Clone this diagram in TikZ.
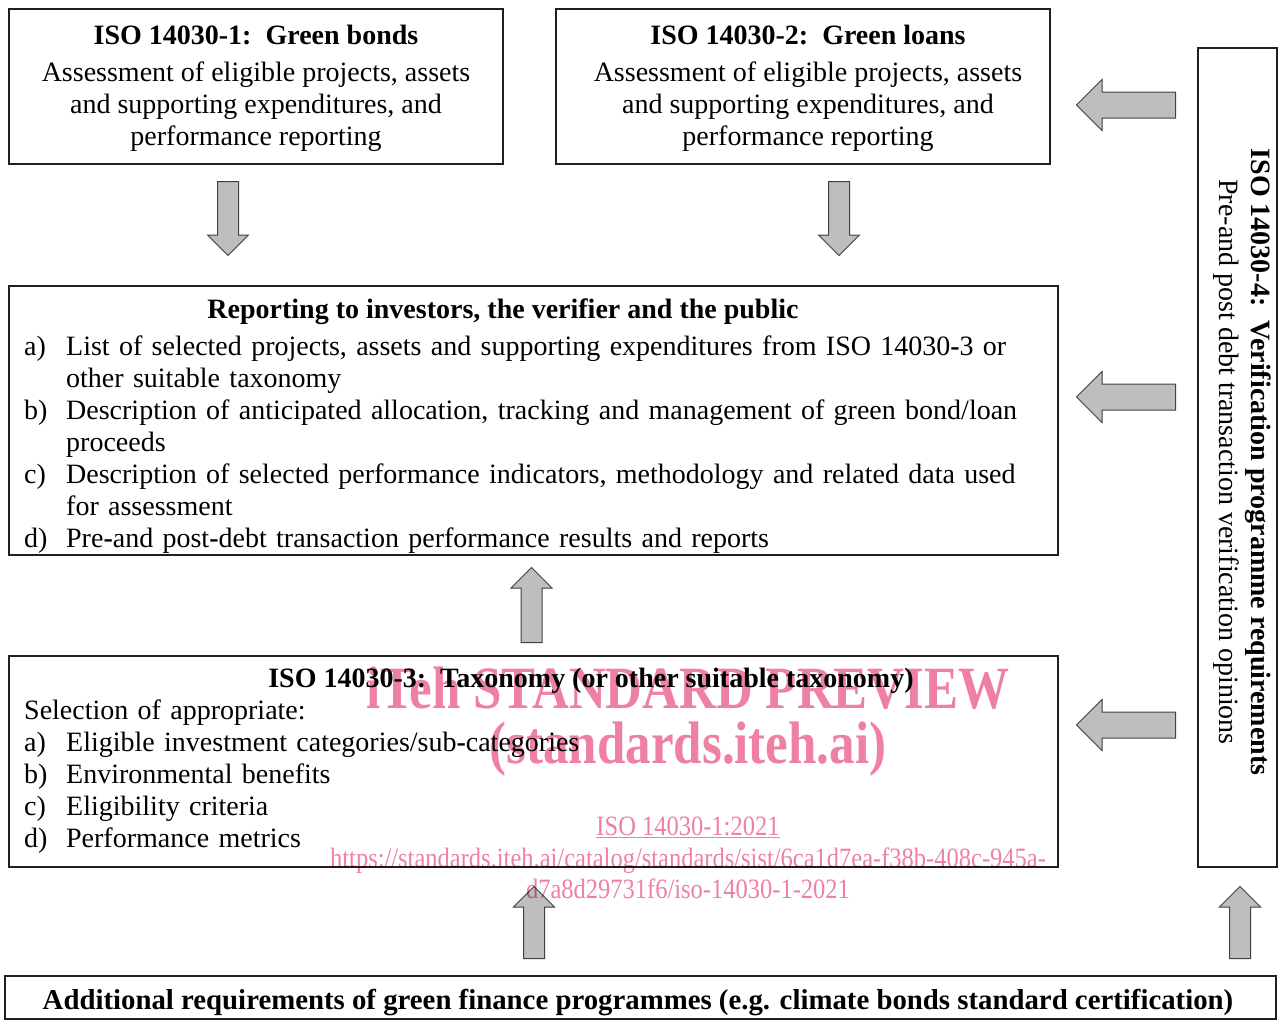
\documentclass[tikz,border=0pt]{standalone}
\usepackage{fontspec}
\setmainfont{Liberation Serif}
\usepackage{graphicx}
\usetikzlibrary{shapes.arrows}

\definecolor{gris}{RGB}{188,190,192}
\definecolor{borde}{RGB}{35,31,32}
\definecolor{rosa}{RGB}{238,128,162}

\newcommand{\tam}{\fontsize{28}{32}\selectfont}
\newcommand{\guion}{\textbf{-}}
\newcommand{\elem}[2]{\hangindent=42pt\hangafter=1\makebox[42pt][l]{#1}#2\par}

\begin{document}
\begin{tikzpicture}[x=1pt, y=-1pt,
    caja/.style   = {rectangle, draw=borde, line width=2pt, inner sep=0pt},
    texto/.style  = {font=\tam, align=center, inner sep=0pt},
    lista/.style  = {font=\tam, align=left, text width=1030pt, inner sep=0pt},
    flecha/.style = {single arrow, draw=black!75, fill=gris, line width=1pt,
                     single arrow tip angle=90, single arrow head indent=0pt,
                     inner xsep=0pt, anchor=tail, minimum height=#1},
    fv/.style     = {flecha=#1, inner ysep=10pt, single arrow head extend=10pt},
    fh/.style     = {flecha=#1, inner ysep=12.5pt, single arrow head extend=12.5pt,
                     rotate=180},
    marca/.style  = {text=rosa, inner sep=0pt, anchor=base},
  ]
  \useasboundingbox (0,0) rectangle (1278,1021);

  %-------------------------------------------------- 1 y 2. bonos y prestamos
  \node[caja, minimum width=494pt, minimum height=155pt] (B1) at (256,86.5) {};
  \node[texto] (t1) at (256,88)
    {\textbf{ISO 14030-1:\ \ Green bonds}\\[5pt]
     Assessment of eligible projects, assets\\
     and supporting expenditures, and\\performance reporting};

  \node[caja, minimum width=494pt, minimum height=155pt] (B2) at (803,86.5) {};
  \node[texto] (t2) at (808,88)
    {\textbf{ISO 14030-2:\ \ Green loans}\\[5pt]
     Assessment of eligible projects, assets\\
     and supporting expenditures, and\\performance reporting};

  %-------------------------------------------------- reporte
  \node[caja, minimum width=1049pt, minimum height=269pt] (R) at (533.5,420.5) {};
  \node[texto, anchor=base] (rt) at (503,318)
    {\textbf{Reporting to investors, the verifier and the public}};
  \node[lista, anchor=base west] (rl) at (24,355)
    {\elem{a)}{List of selected projects, assets and supporting expenditures from ISO 14030\guion3 or\newline other suitable taxonomy}
     \elem{b)}{Description of anticipated allocation, tracking and management of green bond/loan\newline proceeds}
     \elem{c)}{Description of selected performance indicators, methodology and related data used\newline for assessment}
     \elem{d)}{Pre\guion and post\guion debt transaction performance results and reports}};

  %-------------------------------------------------- taxonomia
  \node[caja, minimum width=1049pt, minimum height=211pt] (T) at (533.5,761.5) {};
  \node[texto, anchor=base] (tt) at (591,687)
    {\textbf{ISO 14030-3:\ \ Taxonomy (or other suitable taxonomy)}};
  \node[lista, anchor=base west] (tl) at (24,719)
    {Selection of appropriate:\par
     \elem{a)}{Eligible investment categories/sub\guion categories}
     \elem{b)}{Environmental benefits}
     \elem{c)}{Eligibility criteria}
     \elem{d)}{Performance metrics}};

  %-------------------------------------------------- verificacion
  \node[caja, minimum width=79pt, minimum height=819pt] (V) at (1237.5,457.5) {};
  \node[texto, rotate=-90] (vt) at (1242,462)
    {\textbf{ISO 14030-4:\ \ Verification programme requirements}\\
     Pre-and post debt transaction verification opinions};

  %-------------------------------------------------- requisitos adicionales
  \node[caja, minimum width=1271pt, minimum height=43pt] (A) at (640.5,997.5) {};
  \node[texto, anchor=base, font=\fontsize{28.8}{32}\selectfont] (at) at (638,1009)
    {\textbf{Additional requirements of green finance programmes (e.g. climate bonds standard certification)}};

  %-------------------------------------------------- flechas
  \node[fv=74pt, rotate=-90] (f1) at (228,181) {};
  \node[fv=74pt, rotate=-90] (f2) at (839,181) {};
  \node[fv=75pt, rotate=90]  (f3) at (531.5,643) {};
  \node[fv=72pt, rotate=90]  (f4) at (534,959) {};
  \node[fv=72pt, rotate=90]  (f5) at (1240,959) {};
  \node[fh=99pt] (f6) at (1176,105) {};
  \node[fh=99pt] (f7) at (1176,397) {};
  \node[fh=99pt] (f8) at (1176,725) {};

  %-------------------------------------------------- marca de agua
  \begin{scope}[blend mode=multiply]
  \node[marca, font=\fontsize{60}{60}\selectfont\bfseries] (m1) at (688,708)
    {\scalebox{0.85}[1]{iTeh STANDARD PREVIEW}};
  \node[marca, font=\fontsize{60}{60}\selectfont\bfseries] (m2) at (688,763)
    {\scalebox{0.85}[1]{(standards.iteh.ai)}};
  \node[marca, font=\fontsize{28}{28}\selectfont] (m3) at (688,835)
    {\scalebox{0.875}[1]{\underline{ISO 14030-1:2021}}};
  \node[marca, font=\fontsize{28}{28}\selectfont] (m4) at (688,867)
    {\scalebox{0.875}[1]{https://standards.iteh.ai/catalog/standards/sist/6ca1d7ea-f38b-408c-945a-}};
  \node[marca, font=\fontsize{28}{28}\selectfont] (m5) at (688,898)
    {\scalebox{0.875}[1]{d7a8d29731f6/iso-14030-1-2021}};
  \end{scope}
\end{tikzpicture}
\end{document}
